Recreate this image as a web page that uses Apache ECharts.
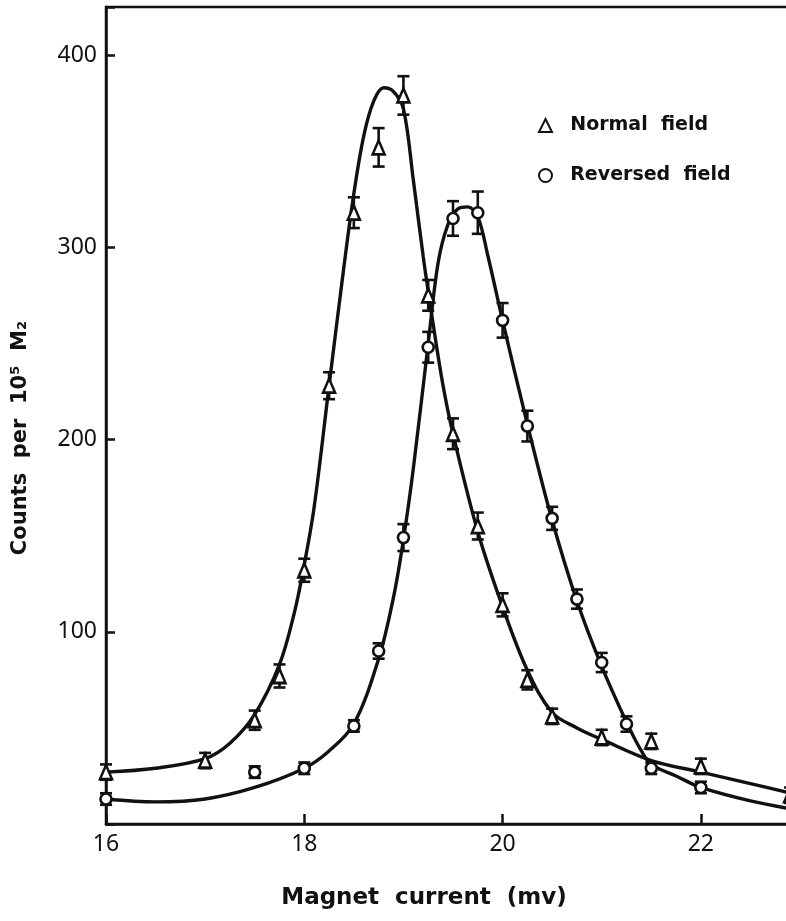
<!DOCTYPE html>
<html>
<head>
<meta charset="utf-8">
<script src="https://cdn.jsdelivr.net/npm/echarts@6/dist/echarts.min.js"></script>
<style>
  html, body { margin: 0; padding: 0; background: #fff; }
  #chart { width: 786px; height: 921px; }
</style>
</head>
<body>
<div id="chart"></div>
<script>
// Measured points: magnet current (mv), counts and statistical error
const currentNormal = [16, 17, 17.5, 17.75, 18, 18.25, 18.5, 18.75, 19, 19.25, 19.5, 19.75, 20, 20.25, 20.5, 21, 21.5, 22, 22.9];
const countsNormal  = [27, 33, 54, 77, 132, 228, 318, 352, 379, 275, 203, 155, 114, 75, 56, 45, 43, 30, 15];
const errNormal     = [4, 4, 5, 6, 6, 7, 8, 10, 10, 8, 8, 7, 6, 5, 4, 4, 4, 4, 4];

const currentReversed = [16, 17.5, 18, 18.5, 18.75, 19, 19.25, 19.5, 19.75, 20, 20.25, 20.5, 20.75, 21, 21.25, 21.5, 22];
const countsReversed  = [13, 27, 29, 51, 90, 149, 248, 315, 318, 262, 207, 159, 117, 84, 52, 29, 19];
const errReversed     = [3, 3, 3, 3, 4, 7, 8, 9, 11, 9, 8, 6, 5, 5, 4, 3, 3];

// Hand-drawn fitted curves through each data set
const curveNormalX = [16, 16.5, 17, 17.25, 17.5, 17.75, 17.9, 18, 18.1, 18.25, 18.4, 18.5, 18.6, 18.7, 18.8, 18.9, 19, 19.1, 19.2, 19.3, 19.4, 19.5, 19.75, 20, 20.25, 20.5, 20.75, 21, 21.5, 22, 22.5, 23];
const curveNormalY = [27, 29, 34, 42, 57, 83, 110, 135, 165, 228, 290, 328, 358, 376, 383, 381, 372, 335, 295, 260, 228, 203, 152, 113, 80, 58, 50, 44, 33, 27, 21, 15];

const curveReversedX = [16, 16.5, 17, 17.5, 18, 18.25, 18.5, 18.75, 18.9, 19, 19.1, 19.25, 19.35, 19.45, 19.55, 19.65, 19.75, 19.85, 20, 20.25, 20.5, 20.75, 21, 21.25, 21.4, 21.5, 21.75, 22, 22.5, 23];
const curveReversedY = [13, 11.5, 13, 19, 29, 38, 52, 86, 118, 148, 185, 250, 292, 312, 320, 321, 316, 296, 262, 208, 158, 116, 82, 53, 38, 31, 25, 19, 12, 7];

const xTicks = [16, 18, 20, 22];
const yTicks = [100, 200, 300, 400];

const INK = '#111';
const FONT = 'DejaVu Sans';

function pairs(xs, ys) { return xs.map((x, i) => [x, ys[i]]); }
function triples(xs, ys, es) { return xs.map((x, i) => [x, ys[i], es[i]]); }

function errorBar(params, api) {
  const x = api.value(0), y = api.value(1), e = api.value(2);
  const top = api.coord([x, y + e]);
  const bot = api.coord([x, y - e]);
  const hw = 6;
  const st = { stroke: INK, lineWidth: 2.6 };
  return {
    type: 'group',
    children: [
      { type: 'line', shape: { x1: top[0], y1: top[1], x2: bot[0], y2: bot[1] }, style: st },
      { type: 'line', shape: { x1: top[0] - hw, y1: top[1], x2: top[0] + hw, y2: top[1] }, style: st },
      { type: 'line', shape: { x1: bot[0] - hw, y1: bot[1], x2: bot[0] + hw, y2: bot[1] }, style: st }
    ]
  };
}

const chart = echarts.init(document.getElementById('chart'), null, { renderer: 'canvas' });

chart.setOption({
  backgroundColor: '#fff',
  animation: false,
  grid: {
    left: 106, top: 7, width: 694, height: 817,
    outerBoundsMode: 'none', containLabel: false,
    show: true, borderColor: INK, borderWidth: 2.5, backgroundColor: 'transparent'
  },
  xAxis: {
    type: 'value', min: 16, max: 23, interval: 2,
    axisLine: { lineStyle: { color: INK, width: 2.5 } },
    axisTick: { inside: true, length: 10, lineStyle: { color: INK, width: 2.5 } },
    axisLabel: {
      margin: 9, color: INK, fontFamily: 'Noto Sans', fontSize: 23,
      formatter: v => (xTicks.indexOf(v) >= 0 ? String(v) : '')
    },
    splitLine: { show: false }
  },
  yAxis: {
    type: 'value', min: 0, max: 425, interval: 100,
    axisLine: { lineStyle: { color: INK, width: 2.5 } },
    axisTick: { inside: true, length: 9, lineStyle: { color: INK, width: 2.5 } },
    axisLabel: {
      margin: 9, color: INK, fontFamily: 'Noto Sans', fontSize: 23,
      formatter: v => (yTicks.indexOf(v) >= 0 ? String(v) : '')
    },
    splitLine: { show: false }
  },
  legend: {
    orient: 'vertical', left: 538, top: 116, itemGap: 31,
    itemWidth: 13, itemHeight: 13, padding: 0,
    data: ['Normal field', 'Reversed field'],
    formatter: n => '  ' + n.replace(' ', '  '),
    textStyle: { color: INK, fontFamily: FONT, fontWeight: 'bold', fontSize: 19 }
  },
  graphic: [
    {
      type: 'text', x: 424, y: 898,
      style: {
        text: 'Magnet  current  (mv)', fill: INK, fontFamily: FONT,
        fontWeight: 'bold', fontSize: 23, align: 'center', verticalAlign: 'middle'
      }
    },
    {
      type: 'text', x: 21, y: 438, rotation: Math.PI / 2,
      style: {
        text: 'Counts  per  10\u2075  M\u2082', fill: INK, fontFamily: FONT,
        fontWeight: 'bold', fontSize: 21, align: 'center', verticalAlign: 'middle'
      }
    }
  ],
  series: [
    {
      name: 'Normal curve', type: 'line', data: pairs(curveNormalX, curveNormalY),
      smooth: 0.35, showSymbol: false, silent: true, z: 2,
      lineStyle: { color: INK, width: 3.4 }
    },
    {
      name: 'Reversed curve', type: 'line', data: pairs(curveReversedX, curveReversedY),
      smooth: 0.35, showSymbol: false, silent: true, z: 2,
      lineStyle: { color: INK, width: 3.4 }
    },
    {
      name: 'Normal errors', type: 'custom', renderItem: errorBar, z: 3,
      data: triples(currentNormal, countsNormal, errNormal)
    },
    {
      name: 'Reversed errors', type: 'custom', renderItem: errorBar, z: 3,
      data: triples(currentReversed, countsReversed, errReversed)
    },
    {
      name: 'Normal field', type: 'scatter', data: pairs(currentNormal, countsNormal),
      symbol: 'triangle', symbolSize: [12, 14], z: 4,
      itemStyle: { color: '#fff', borderColor: INK, borderWidth: 2.6, opacity: 1 }
    },
    {
      name: 'Reversed field', type: 'scatter', data: pairs(currentReversed, countsReversed),
      symbol: 'circle', symbolSize: 11, z: 4,
      itemStyle: { color: '#fff', borderColor: INK, borderWidth: 2.6, opacity: 1 }
    }
  ]
});
</script>
</body>
</html>
